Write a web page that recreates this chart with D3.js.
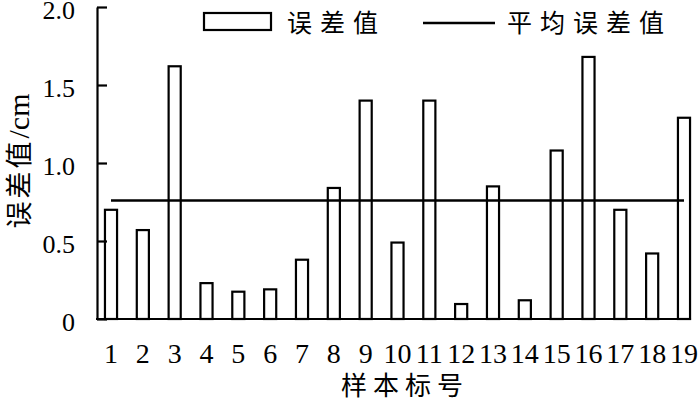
<!DOCTYPE html>
<html>
<head>
<meta charset="utf-8">
<script src="https://cdn.jsdelivr.net/npm/d3@7"></script>
<style>
  body { margin: 0; background: #fff; }
  svg { display: block; }
</style>
</head>
<body>
<div id="chart"></div>
<script>
// sample numbers and their error values (cm)
var samples = ["1","2","3","4","5","6","7","8","9","10","11","12","13","14","15","16","17","18","19"];
var errors = [0.70, 0.57, 1.62, 0.23, 0.175, 0.19, 0.38, 0.84, 1.40, 0.49, 1.40, 0.096, 0.85, 0.12, 1.08, 1.68, 0.70, 0.42, 1.29];
var meanError = 0.76;
var yTicks = [0, 0.5, 1.0, 1.5, 2.0];
var yTickLabels = ["0", "0.5", "1.0", "1.5", "2.0"];

var width = 700, height = 401;
var margin = {top: 7, right: 2, bottom: 82, left: 97};

var svg = d3.select("#chart").append("svg")
    .attr("width", width)
    .attr("height", height);

var x = d3.scaleBand()
    .domain(samples)
    .range([margin.left, width - margin.right])
    .paddingInner(0.62)
    .paddingOuter(0.25);

var y = d3.scaleLinear()
    .domain([0, 2])
    .range([height - margin.bottom, margin.top]);

var serif = "'Liberation Serif', 'Times New Roman', serif";
var cjk = "'Noto Sans CJK SC', sans-serif";

// bars
svg.append("g").selectAll("rect")
    .data(errors)
    .enter().append("rect")
    .attr("x", function(d, i) { return x(samples[i]); })
    .attr("y", function(d) { return y(d); })
    .attr("width", x.bandwidth())
    .attr("height", function(d) { return y(0) - y(d); })
    .attr("fill", "#fff")
    .attr("stroke", "#000")
    .attr("stroke-width", 2.2);

// mean line
var first = samples[0], last = samples[samples.length - 1];
svg.append("line")
    .attr("x1", x(first) + x.bandwidth() / 2)
    .attr("x2", x(last) + x.bandwidth() / 2)
    .attr("y1", y(meanError))
    .attr("y2", y(meanError))
    .attr("stroke", "#000")
    .attr("stroke-width", 2.5);

// y axis (ticks pointing inward)
var yAxis = svg.append("g")
    .attr("transform", "translate(" + margin.left + ",0)")
    .call(d3.axisRight(y).tickValues(yTicks).tickSize(10).tickSizeOuter(0).tickFormat(function() { return ""; }));
yAxis.select(".domain").attr("stroke-width", 2.2);
yAxis.selectAll(".tick line").attr("stroke-width", 2.2);

svg.append("g").selectAll("text")
    .data(yTicks)
    .enter().append("text")
    .attr("x", 75)
    .attr("y", function(d) { return y(d) + 12; })
    .attr("text-anchor", "end")
    .style("font-family", serif)
    .style("font-size", "26px")
    .text(function(d, i) { return yTickLabels[i]; });

// x axis, ends at the last bar
svg.append("line")
    .attr("x1", margin.left - 1)
    .attr("x2", x(last) + x.bandwidth() + 1)
    .attr("y1", y(0))
    .attr("y2", y(0))
    .attr("stroke", "#000")
    .attr("stroke-width", 2.2);

svg.append("g").selectAll("text")
    .data(samples)
    .enter().append("text")
    .attr("x", function(d) { return x(d) + x.bandwidth() / 2; })
    .attr("y", 363)
    .attr("text-anchor", "middle")
    .style("font-family", serif)
    .style("font-size", "28px")
    .text(function(d) { return d; });

// axis titles
svg.append("text")
    .attr("x", 341)
    .attr("y", 395)
    .style("font-family", cjk)
    .style("font-size", "26px")
    .style("letter-spacing", "6px")
    .text("样本标号");

var yTitle = svg.append("text")
    .attr("transform", "translate(29,161) rotate(-90)")
    .attr("text-anchor", "middle");
yTitle.append("tspan")
    .style("font-family", cjk)
    .style("font-size", "27px")
    .style("letter-spacing", "3px")
    .text("误差值");
yTitle.append("tspan")
    .style("font-family", serif)
    .style("font-size", "30px")
    .text("/cm");

// legend
svg.append("rect")
    .attr("x", 204).attr("y", 13)
    .attr("width", 67).attr("height", 17)
    .attr("fill", "#fff")
    .attr("stroke", "#000")
    .attr("stroke-width", 2.2);
svg.append("text")
    .attr("x", 287).attr("y", 32)
    .style("font-family", cjk)
    .style("font-size", "25px")
    .style("letter-spacing", "8px")
    .text("误差值");
svg.append("line")
    .attr("x1", 423).attr("x2", 495)
    .attr("y1", 23).attr("y2", 23)
    .attr("stroke", "#000")
    .attr("stroke-width", 2.5);
svg.append("text")
    .attr("x", 507).attr("y", 32)
    .style("font-family", cjk)
    .style("font-size", "25px")
    .style("letter-spacing", "8px")
    .text("平均误差值");
</script>
</body>
</html>
